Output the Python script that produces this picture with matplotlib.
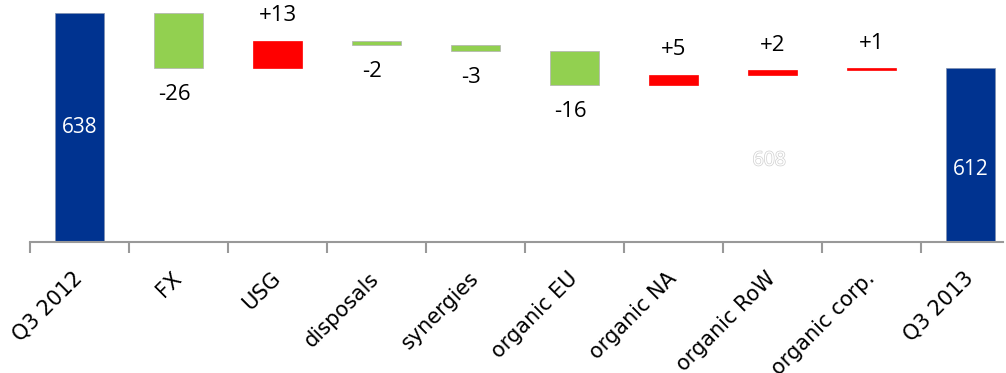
import matplotlib.pyplot as plt
import matplotlib.patheffects as pe
import numpy as np

categories = ['Q3 2012', 'FX', 'USG', 'disposals', 'synergies', 'organic EU',
              'organic NA', 'organic RoW', 'organic corp.', 'Q3 2013']
start_total = 638
changes = [-26, 13, -2, -3, -16, 5, 2, 1]
end_total = 612
change_labels = ['-26', '+13', '-2', '-3', '-16', '+5', '+2', '+1']
ghost_label = '608'

BLUE = '#003390'
GREEN = '#92D050'
RED = '#FF0000'
BASE = 530


def main():
    plt.rcParams['font.family'] = ['DejaVu Sans']
    fig = plt.figure(figsize=(10.06, 3.73), dpi=100)
    ax = fig.add_axes([30 / 1006, 1 - 242 / 373, 973 / 1006, 242 / 373])

    x = np.arange(len(categories))
    w = 0.5

    # totals
    for i, v in ((0, start_total), (len(categories) - 1, end_total)):
        ax.bar(x[i], v - BASE, bottom=BASE, width=w, color=BLUE,
               edgecolor='#8090b0', linewidth=0.5)
    ax.text(x[0], (BASE + start_total) / 2, str(start_total), color='white',
            ha='center', va='center', fontsize=15, family='Open Sans')
    ax.text(x[-1], 564, str(end_total), color='white',
            ha='center', va='center', fontsize=15, family='Open Sans')

    # steps
    level = start_total
    for k, d in enumerate(changes):
        i = k + 1
        new = level + d
        lo, hi = min(level, new), max(level, new)
        ax.bar(x[i], hi - lo, bottom=lo, width=w,
               color=GREEN if d < 0 else RED,
               edgecolor='#b0b0b0' if d < 0 else RED, linewidth=0.5)
        if d < 0:
            ax.annotate(change_labels[k], (x[i], lo), xytext=(-3, -19),
                        textcoords='offset points', ha='center', va='center',
                        fontsize=16, family='Open Sans')
        else:
            ax.annotate(change_labels[k], (x[i], hi), xytext=(0, 18),
                        textcoords='offset points', ha='center', va='center',
                        fontsize=16, family='Open Sans')
        level = new

    # faint leftover label
    ax.text(x[7] - 0.03, 568.5, ghost_label, color='white', ha='center',
            va='center', fontsize=14, family='Open Sans',
            path_effects=[pe.withStroke(linewidth=1.0, foreground='#d0d0d0')])

    ax.set_xlim(-0.5, 9.33)
    ax.set_ylim(BASE, 644.2)

    for s in ('top', 'right', 'left'):
        ax.spines[s].set_visible(False)
    ax.spines['bottom'].set_color('#999999')
    ax.spines['bottom'].set_linewidth(1.5)
    ax.set_yticks([])

    ax.set_xticks(np.arange(-0.5, 9, 1))
    ax.set_xticklabels([])
    ax.tick_params(axis='x', which='major', length=8, width=1.5,
                   color='#999999', direction='out')
    ax.set_xticks(x, minor=True)
    ax.set_xticklabels(categories, minor=True, rotation=45, ha='right',
                       va='center', rotation_mode='anchor', fontsize=15)
    ax.tick_params(axis='x', which='minor', length=0, pad=24)

    fig.savefig('out.png', dpi=100)


if __name__ == '__main__':
    main()
